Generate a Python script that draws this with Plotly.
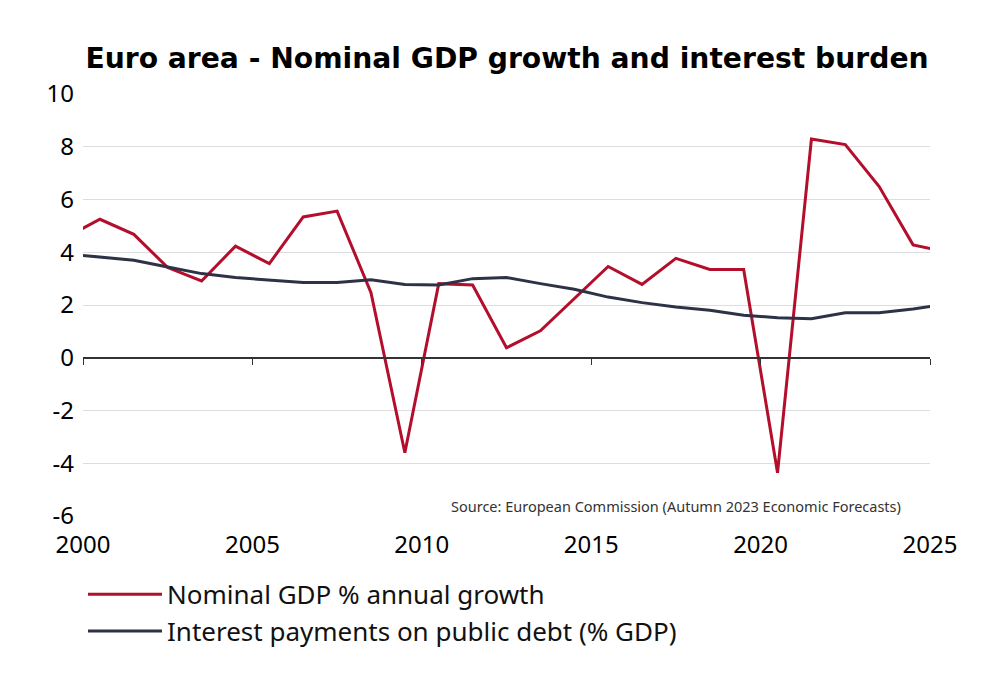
import plotly.graph_objects as go

# Annual values plotted at mid-year (year + 0.5); axis shows 2000-2025
years = list(range(1999, 2026))
gdp_growth = [4.57, 5.25, 4.68, 3.42, 2.91, 4.23, 3.57, 5.34, 5.56, 2.47,
              -3.60, 2.81, 2.76, 0.38, 1.02, 2.24, 3.46, 2.78, 3.77, 3.35,
              3.35, -4.36, 8.29, 8.08, 6.49, 4.28, 4.00]
interest = [3.94, 3.82, 3.70, 3.44, 3.19, 3.04, 2.95, 2.85, 2.85, 2.96,
            2.78, 2.76, 3.00, 3.04, 2.81, 2.60, 2.30, 2.09, 1.92, 1.80,
            1.61, 1.52, 1.48, 1.71, 1.71, 1.85, 2.03]
x_mid = [y + 0.5 for y in years]

x_ticks = [2000, 2005, 2010, 2015, 2020, 2025]
y_ticks = [-6, -4, -2, 0, 2, 4, 6, 8, 10]
y_labels = ["-6", "-4", "-2", "0", "2", "4", "6", "8", "10"]

RED = "#B30E2B"
NAVY = "#2D3246"
TICKFONT = dict(family="Noto Sans", size=24, color="black")

fig = go.Figure()
fig.add_trace(go.Scatter(x=x_mid, y=gdp_growth, mode="lines",
                         name="Nominal GDP % annual growth",
                         line=dict(color=RED, width=3)))
fig.add_trace(go.Scatter(x=x_mid, y=interest, mode="lines",
                         name="Interest payments on public debt (% GDP)",
                         line=dict(color=NAVY, width=3)))
# invisible trace so the bottom labelled axis renders
fig.add_trace(go.Scatter(x=[2000, 2025], y=[0, 0], xaxis="x2", mode="lines",
                         line=dict(width=0), showlegend=False, hoverinfo="skip"))

fig.update_layout(
    width=998, height=688,
    margin=dict(l=75, r=76, t=86, b=180),
    paper_bgcolor="white", plot_bgcolor="white",
    title=dict(text="<b>Euro area - Nominal GDP growth and interest burden</b>",
               x=0.5, xanchor="center", y=0.927, yanchor="middle",
               font=dict(family="DejaVu Sans", size=28.2, color="black")),
    font=dict(family="Noto Sans", color="black"),
    xaxis=dict(range=[2000, 2025], tickvals=x_ticks, showticklabels=False,
               showgrid=False, zeroline=False, showline=True, linecolor="#333333",
               linewidth=1.5, ticks="outside", ticklen=6, tickcolor="#333333",
               anchor="free", position=0.375),
    xaxis2=dict(range=[2000, 2025], overlaying="x", side="bottom", anchor="y",
                tickvals=x_ticks, ticktext=[str(t) for t in x_ticks],
                showgrid=False, zeroline=False, showline=False, ticks="",
                ticklabelstandoff=12, tickfont=TICKFONT),
    yaxis=dict(range=[-6, 10], tickvals=y_ticks, ticktext=y_labels, showgrid=True,
               gridcolor="#DDDDDD", gridwidth=1, zeroline=False, showline=False,
               ticks="", ticklabelstandoff=8, tickfont=TICKFONT),
    legend=dict(x=0.0, y=-0.13, xanchor="left", yanchor="top",
                orientation="v", itemwidth=74, tracegroupgap=0,
                font=dict(family="Noto Sans", size=26, color="#111111")),
    annotations=[dict(text="Source: European Commission (Autumn 2023 Economic Forecasts)",
                      xref="x", yref="y", x=2025, y=-6, xanchor="right",
                      yanchor="middle", yshift=10, showarrow=False,
                      bgcolor="white", borderpad=6, width=472, align="left",
                      font=dict(family="Noto Sans", size=14.5, color="#333333"))],
)

fig.write_html("out.html")
